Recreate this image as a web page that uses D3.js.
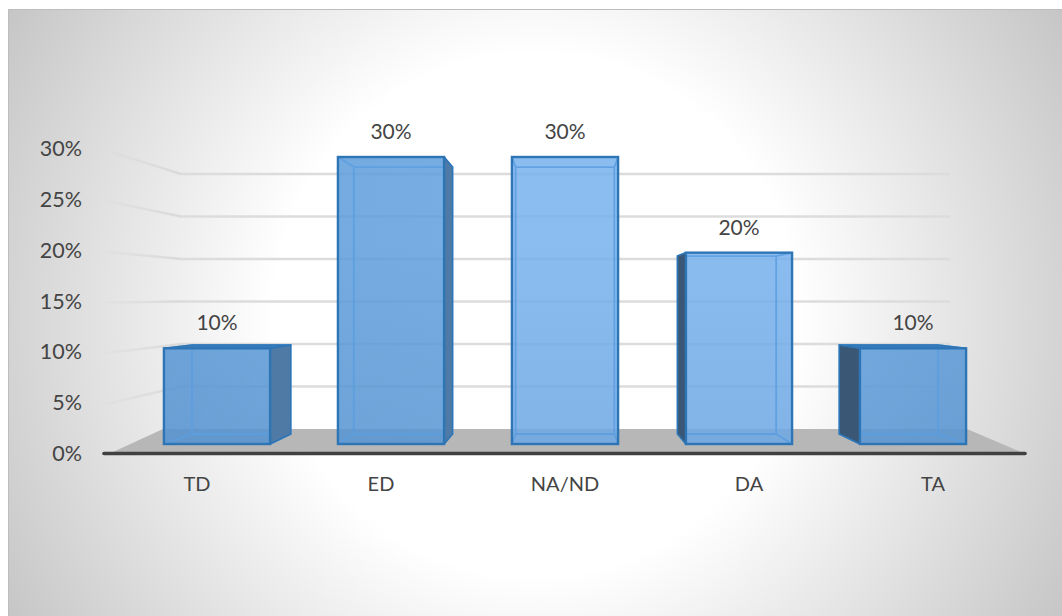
<!DOCTYPE html>
<html>
<head>
<meta charset="utf-8">
<script src="https://cdn.jsdelivr.net/npm/d3@7"></script>
<style>
html,body{margin:0;padding:0;background:#fff;overflow:hidden}
svg{display:block}
text{font-family:Lato,"Open Sans",sans-serif;fill:#444444}
</style>
</head>
<body>
<svg id="chart" width="1062" height="616"></svg>
<script>
// Response shares per answer category
const categories = ["TD", "ED", "NA/ND", "DA", "TA"];
const shares = [0.10, 0.30, 0.30, 0.20, 0.10];
const axisTicks = [0, 0.05, 0.10, 0.15, 0.20, 0.25, 0.30];

const svg = d3.select("#chart");
const defs = svg.append("defs");
const pct = d3.format(".0%");

// Front plane of the 3D box, back wall and the outer wall edge
const yFront = d3.scaleLinear().domain([0, 0.30]).range([444, 157]);
const yBack = d3.scaleLinear().domain([0, 0.30]).range([429, 174]);
const yOuter = d3.scaleLinear().domain([0, 0.30]).range([453, 148]);
const xBars = d3.scaleBand().domain(categories).range([130, 1000]).paddingInner(0.39).paddingOuter(0.195);
const xLabels = d3.scalePoint().domain(categories).range([197, 933]);

// Perspective: depth shrinks everything towards one vanishing point
const vanish = [565, 301], depth = 0.93;
const toBack = ([x, y]) => [vanish[0] + (x - vanish[0]) * depth, vanish[1] + (y - vanish[1]) * depth];

// Panel background
const bg = defs.append("radialGradient").attr("id", "panelFill")
  .attr("gradientUnits", "userSpaceOnUse")
  .attr("cx", 535).attr("cy", 315).attr("r", 620);
bg.append("stop").attr("offset", 0.42).attr("stop-color", "#ffffff");
bg.append("stop").attr("offset", 1).attr("stop-color", "#c4c4c4");
svg.append("rect").attr("x", 8).attr("y", 9).attr("width", 1054).attr("height", 607)
  .attr("fill", "url(#panelFill)");
svg.append("path").attr("d", "M8.5,616V9.5H1062").attr("fill", "none").attr("stroke", "#bdbdbd");

// Bar face colour: brighter around the middle of the chart
const face = defs.append("linearGradient").attr("id", "faceFill")
  .attr("gradientUnits", "userSpaceOnUse").attr("x1", 130).attr("x2", 1000).attr("y1", 0).attr("y2", 0);
[[0, "#5999d7"], [0.36, "#5e9edc"], [0.44, "#76b1ee"], [0.76, "#76b1ee"], [0.84, "#5f9fdd"], [1, "#5b9bd9"]]
  .forEach(([o, c]) => face.append("stop").attr("offset", o).attr("stop-color", c));
const shade = defs.append("linearGradient").attr("id", "faceShade")
  .attr("gradientUnits", "userSpaceOnUse").attr("x1", 0).attr("x2", 0).attr("y1", 240).attr("y2", 444);
shade.append("stop").attr("offset", 0).attr("stop-color", "#1e4a80").attr("stop-opacity", 0);
shade.append("stop").attr("offset", 1).attr("stop-color", "#1e4a80").attr("stop-opacity", 0.08);

// Side-wall gridlines fade out towards the axis labels
const wallFade = defs.append("linearGradient").attr("id", "wallFade")
  .attr("gradientUnits", "userSpaceOnUse").attr("x1", 105).attr("x2", 181).attr("y1", 0).attr("y2", 0);
wallFade.append("stop").attr("offset", 0).attr("stop-color", "#d9d9d9").attr("stop-opacity", 0.25);
wallFade.append("stop").attr("offset", 1).attr("stop-color", "#d9d9d9");

// Floor
svg.append("path")
  .attr("d", d3.line()([[113, 452], [163, 429], [967, 429], [1021, 452]]) + "Z")
  .attr("fill", "#b7b7b7");

// Gridlines on the back wall and side wall
const gridTicks = axisTicks.filter(t => t > 0);
svg.append("g").selectAll("line").data(gridTicks).join("line")
  .attr("x1", 181).attr("x2", 950)
  .attr("y1", d => yBack(d)).attr("y2", d => yBack(d))
  .attr("stroke", "#dcdcdc").attr("stroke-width", 2.6);
svg.append("g").selectAll("line").data(gridTicks).join("line")
  .attr("x1", 105).attr("x2", 181)
  .attr("y1", d => yOuter(d) + 2).attr("y2", d => yBack(d))
  .attr("stroke", "url(#wallFade)").attr("stroke-width", 2.6);

// Axis line
svg.append("line").attr("x1", 104).attr("x2", 1025).attr("y1", 453.5).attr("y2", 453.5)
  .attr("stroke", "#404040").attr("stroke-width", 3.6).attr("stroke-linecap", "round");

const poly = pts => d3.line()(pts) + "Z";

// Boxes
const bars = svg.append("g").selectAll("g").data(categories.map((c, i) => ({c, v: shares[i]}))).join("g");
bars.each(function (d) {
  const g = d3.select(this);
  const x0 = xBars(d.c), x1 = x0 + xBars.bandwidth();
  const top = yFront(d.v), bot = yFront(0);
  const ftl = [x0, top], ftr = [x1, top], fbl = [x0, bot], fbr = [x1, bot];
  const btl = toBack(ftl), btr = toBack(ftr), bbl = toBack(fbl), bbr = toBack(fbr);

  // Front face
  g.append("rect").attr("x", x0).attr("y", top).attr("width", x1 - x0).attr("height", bot - top)
    .attr("fill", "url(#faceFill)").attr("fill-opacity", 0.85);
  g.append("rect").attr("x", x0).attr("y", top).attr("width", x1 - x0).attr("height", bot - top)
    .attr("fill", "url(#faceShade)");

  // Back edges seen through the front face
  const inner = "M" + [btl, btr, bbr, bbl].join("L") + "Z" +
    "M" + ftl + "L" + btl + "M" + ftr + "L" + btr + "M" + fbl + "L" + bbl + "M" + fbr + "L" + bbr;
  g.append("path").attr("d", inner).attr("fill", "none")
    .attr("stroke", "#5a9de0").attr("stroke-opacity", 0.85).attr("stroke-width", 1.8);

  // Outward side faces, on top of the back edges that run along them
  const outward = (pts, fill) => g.append("path").attr("d", poly(pts))
    .attr("fill", fill).attr("stroke", "#2e75b6").attr("stroke-width", 1.5).attr("stroke-linejoin", "round");
  if (btl[0] < x0) outward([ftl, btl, bbl, fbl], "#3a5876");
  if (btr[0] > x1) outward([ftr, btr, bbr, fbr], "#4f7aa6");
  if (btl[1] < top) outward([ftl, btl, btr, ftr], "#3b7cba");

  // Front edge
  g.append("rect").attr("x", x0).attr("y", top).attr("width", x1 - x0).attr("height", bot - top)
    .attr("fill", "none").attr("stroke", "#2e75b6").attr("stroke-width", 2.4);
});

// Value labels above the boxes
svg.append("g").selectAll("text").data(categories).join("text")
  .attr("x", d => xBars(d) + xBars.bandwidth() / 2)
  .attr("y", (d, i) => yFront(shares[i]) - 26.5)
  .attr("text-anchor", "middle").attr("dominant-baseline", "central")
  .attr("font-size", 21)
  .text((d, i) => pct(shares[i]));

// Category labels
svg.append("g").selectAll("text").data(categories).join("text")
  .attr("x", d => xLabels(d)).attr("y", 482.5)
  .attr("text-anchor", "middle").attr("dominant-baseline", "central")
  .attr("font-size", 20).text(d => d);

// Percent axis labels
svg.append("g").selectAll("text").data(axisTicks).join("text")
  .attr("x", 82).attr("y", d => yOuter(d))
  .attr("text-anchor", "end").attr("dominant-baseline", "central")
  .attr("font-size", 21.5).text(d => pct(d));
</script>
</body>
</html>
